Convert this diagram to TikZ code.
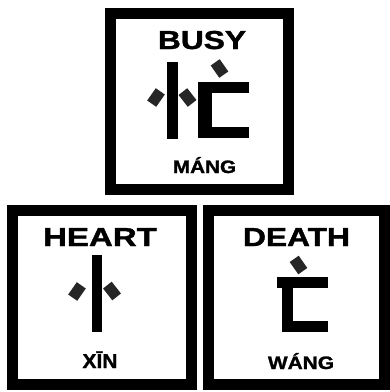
\documentclass[tikz,border=0pt]{standalone}
\usepackage{fontspec}
\setmainfont{Liberation Sans}
\newfontfamily\heavy[FakeBold=1.3]{Liberation Sans Bold}
\usepackage{graphicx}
\begin{document}
\begin{tikzpicture}[x=1pt,y=-1pt,
  frame/.style={draw=black,line width=11pt},
  stroke/.style={fill=black},
  dotmark/.style={fill=black!85,minimum width=11pt,minimum height=15pt,inner sep=0pt,draw=none},
  title/.style={anchor=base,inner sep=0pt,font=\fontsize{26}{26}\selectfont\heavy},
  sound/.style={anchor=base,inner sep=0pt,font=\fontsize{18}{18}\selectfont\heavy}]
\useasboundingbox (0,0) rectangle (390,392);
\fill[white] (0,0) rectangle (390,392);
% frames
\draw[frame] (110.5,13.5) rectangle (288.5,189.5);
\draw[frame] (12.5,210.5) rectangle (191.5,384.5);
\draw[frame] (208.5,210.5) rectangle (384.5,384.5);
% BUSY
\node[title] (busy) at (202,49) {\scalebox{1.22}[1]{BUSY}};
\fill[stroke] (167,62) rectangle (178,139);
\node[dotmark,rotate=-35] (b1) at (156,97.5) {};
\node[dotmark,rotate=38] (b2) at (187.5,97.5) {};
\node[dotmark,rotate=35] (b3) at (219.5,68.5) {};
\fill[stroke] (198,82) rectangle (249,93);
\fill[stroke] (198,82) rectangle (212,138);
\fill[stroke] (198,127) rectangle (249,138);
\node[sound] (mang) at (204.5,173) {\scalebox{1.15}[1]{MÁNG}};
% HEART
\node[title] (heart) at (100,246) {\scalebox{1.27}[1]{HEART}};
\fill[stroke] (92,255) rectangle (102,332);
\node[dotmark,rotate=-35] (h1) at (77,291.5) {};
\node[dotmark,rotate=38] (h2) at (112,291) {};
\node[sound,font=\fontsize{20}{20}\selectfont\heavy] (xin) at (100,368) {\scalebox{1.05}[1]{XĪN}};
% DEATH
\node[title] (death) at (296.5,246) {\scalebox{1.22}[1]{DEATH}};
\node[dotmark,rotate=35] (d1) at (298.5,265) {};
\fill[stroke] (277,277) rectangle (328,288);
\fill[stroke] (282,277) rectangle (293,332);
\fill[stroke] (282,321) rectangle (328,332);
\node[sound] (wang) at (301,369) {\scalebox{1.16}[1]{WÁNG}};
\end{tikzpicture}
\end{document}
